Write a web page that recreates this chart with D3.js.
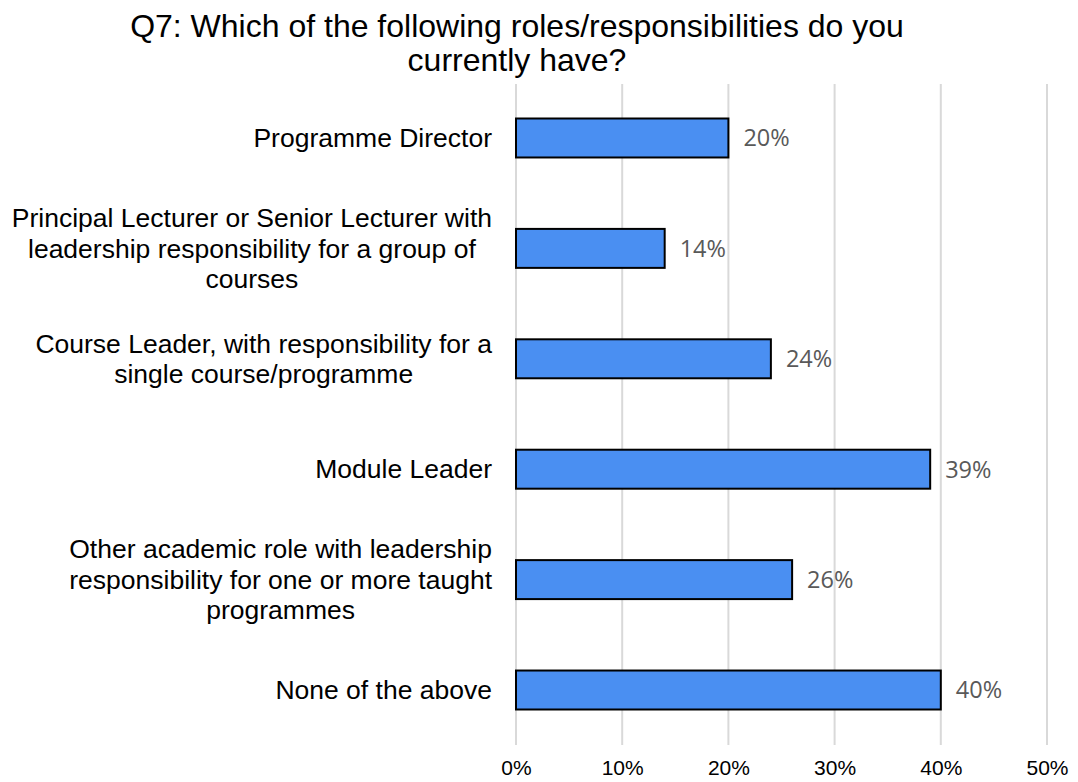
<!DOCTYPE html>
<html>
<head>
<meta charset="utf-8">
<script src="https://cdn.jsdelivr.net/npm/d3@7"></script>
<style>
  html, body { margin: 0; padding: 0; background: #fff; }
  svg { display: block; }
</style>
</head>
<body>
<svg id="chart" width="1078" height="782"></svg>
<script>
// Survey responses, Q7
const categories = [
  ["Programme Director"],
  ["Principal Lecturer or Senior Lecturer with", "leadership responsibility for a group of", "courses"],
  ["Course Leader, with responsibility for a", "single course/programme"],
  ["Module Leader"],
  ["Other academic role with leadership", "responsibility for one or more taught", "programmes"],
  ["None of the above"]
];
const values = [0.20, 0.14, 0.24, 0.39, 0.26, 0.40];
const ticks = [0, 0.1, 0.2, 0.3, 0.4, 0.5];
const titleLines = ["Q7: Which of the following roles/responsibilities do you", "currently have?"];

const svg = d3.select("#chart");
const plotLeft = 516, plotRight = 1047;

const x = d3.scaleLinear().domain([0, 0.5]).range([plotLeft, plotRight]);
const y = d3.scaleBand().domain(d3.range(categories.length))
  .range([63.3, 764.7]).paddingInner(0.647).paddingOuter(0.5);

const sans = "Liberation Sans, Arial, sans-serif";

// Title
svg.append("g").selectAll("text").data(titleLines).join("text")
  .attr("x", 517).attr("y", (d, i) => 37 + i * 34)
  .attr("text-anchor", "middle")
  .attr("font-family", sans)
  .attr("font-size", 32)
  .attr("fill", "#000")
  .text(d => d);

// Vertical gridlines
svg.append("g").selectAll("line").data(ticks).join("line")
  .attr("x1", d => x(d)).attr("x2", d => x(d))
  .attr("y1", 84).attr("y2", 745)
  .attr("stroke", "#d9d9d9").attr("stroke-width", 2);

// X axis tick labels
const xAxis = d3.axisBottom(x).tickValues(ticks).tickFormat(d3.format(".0%")).tickSize(0).tickPadding(0);
const gx = svg.append("g").attr("transform", "translate(0, 760)").call(xAxis);
gx.select(".domain").remove();
gx.selectAll("text")
  .attr("font-family", sans)
  .attr("font-size", 21).attr("fill", "#000").attr("dy", "0.71em");

// Bars
svg.append("g").selectAll("rect").data(values).join("rect")
  .attr("x", x(0))
  .attr("y", (d, i) => y(i))
  .attr("width", d => x(d) - x(0))
  .attr("height", y.bandwidth())
  .attr("fill", "#4a8ff2")
  .attr("stroke", "#000").attr("stroke-width", 2);

// Data labels
svg.append("g").selectAll("text").data(values).join("text")
  .attr("x", d => x(d) + 15)
  .attr("y", (d, i) => y(i) + y.bandwidth() / 2)
  .attr("dy", "0.36em")
  .attr("font-family", "Open Sans, Noto Sans, sans-serif")
  .attr("font-size", 23.5)
  .attr("fill", "#595959")
  .text(d => d3.format(".0%")(d));

// Category labels: lines centred within a block whose right edge sits beside the axis
const labelRight = 492;
const lab = svg.append("g").selectAll("text").data(categories).join("text")
  .attr("text-anchor", "middle")
  .attr("font-family", sans)
  .attr("font-size", 26.5)
  .attr("fill", "#000");
lab.each(function(lines, i) {
  const g = d3.select(this);
  const cy = y(i) + y.bandwidth() / 2;
  const lh = 30.5;
  const spans = g.selectAll("tspan").data(lines).join("tspan")
    .attr("y", (d, j) => cy + (j - (lines.length - 1) / 2) * lh)
    .attr("dy", "0.35em")
    .text(d => d);
  let maxW = 0;
  spans.each(function() { maxW = Math.max(maxW, this.getComputedTextLength()); });
  spans.attr("x", labelRight - maxW / 2);
});
</script>
</body>
</html>
